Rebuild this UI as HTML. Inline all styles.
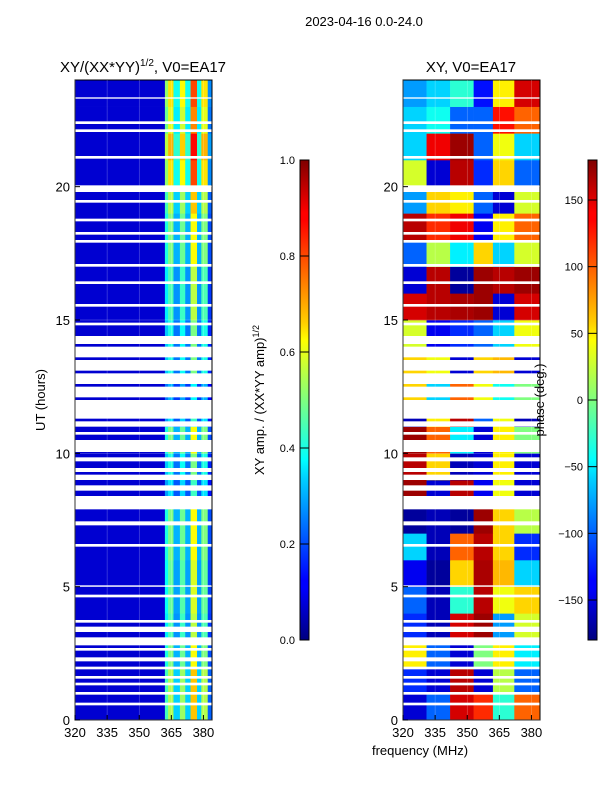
<!DOCTYPE html>
<html><head><meta charset="utf-8"><style>
body{margin:0;background:#fff;}
svg{display:block;font-family:"Liberation Sans",sans-serif;}
</style></head><body>
<svg id="fig" width="600" height="800" viewBox="0 0 600 800" xmlns="http://www.w3.org/2000/svg">
<defs>
<linearGradient id="jet" x1="0" y1="1" x2="0" y2="0">
<stop offset="0" stop-color="#00007f"/><stop offset="0.11" stop-color="#0000ff"/><stop offset="0.125" stop-color="#0000ff"/>
<stop offset="0.34" stop-color="#00d4ff"/><stop offset="0.375" stop-color="#00ffff"/><stop offset="0.5" stop-color="#7fff7f"/>
<stop offset="0.625" stop-color="#ffff00"/><stop offset="0.66" stop-color="#ffd000"/><stop offset="0.875" stop-color="#ff0000"/><stop offset="0.89" stop-color="#ff0000"/><stop offset="1" stop-color="#7f0000"/>
</linearGradient>
</defs>
<text x="364" y="26" font-size="13" text-anchor="middle">2023-04-16 0.0-24.0</text>
<text x="143" y="72" font-size="15" text-anchor="middle">XY/(XX*YY)<tspan font-size="10" dy="-6">1/2</tspan><tspan dy="6">, V0=EA17</tspan></text>
<text x="471" y="72" font-size="15" text-anchor="middle">XY, V0=EA17</text>
<g id="left"></g>
<g id="right"></g>
<g id="axes"></g>
<text transform="translate(45,400) rotate(-90)" font-size="13" text-anchor="middle">UT (hours)</text>
<text x="420" y="755" font-size="13" text-anchor="middle">frequency (MHz)</text>
<rect x="300" y="160" width="9" height="480" fill="url(#jet)" stroke="#000" stroke-width="1"/>
<rect x="588" y="160" width="9" height="480" fill="url(#jet)" stroke="#000" stroke-width="1"/>
<text transform="translate(264,400) rotate(-90)" font-size="13" text-anchor="middle">XY amp. / (XX*YY amp)<tspan font-size="9" dy="-5">1/2</tspan></text>
<text transform="translate(544,400) rotate(-90)" font-size="13" text-anchor="middle">phase (deg.)</text>
<g id="cb"></g>
</svg>
<script>
const hours = [0,1,2,3,4,5,6,7,8,9,10,11,12,13,14,15,16,17,18,19,20,21,22,23];
const phaseBands = [320,331,342,353,362,372,384];
const phaseValues = [
[-150,-100,150,120,-30,100],[-120,-150,160,-150,20,-100],[50,-100,-150,0,50,-50],[-120,-160,150,170,-80,30],
[-100,-160,-30,160,40,60],[-140,-170,60,165,70,-60],[-60,-160,100,160,60,-120],[-170,-160,-170,170,60,20],
[170,-150,160,-140,40,-150],[160,60,-160,-150,50,-150],[170,100,-50,-150,50,0],[-160,50,160,-100,40,-160],
[60,-60,100,40,-40,0],[60,40,-150,60,70,-150],[30,-140,-120,-100,-60,40],[150,160,165,170,-150,150],
[-150,160,-170,170,160,170],[-100,20,-50,60,-60,30],[160,120,140,-140,50,100],[-80,60,50,-100,-150,30],
[30,-150,160,-120,60,-100],[-60,140,170,-100,40,-60],[-60,-40,-100,-100,130,100],[-80,-60,-30,-130,50,150]];
const ampBands = [320,362,363.5,366,369,371.5,374,377,379,382,384];
const ampValues = [0.08,0.4,0.5,0.3,0.48,0.3,0.62,0.3,0.5,0.2];
const hourGain = [1.1,1.1,1.0,0.9,0.95,0.95,1.0,1.0,0.7,0.8,1.0,0.7,0.6,0.8,0.8,0.9,0.9,1.0,1.0,1.1,1.3,1.4,1.2,1.3];
const flagged = [[0.55,0.65],[0.95,1.05],[1.3,1.4],[1.55,1.65],[1.9,2.0],[2.2,2.35],[2.6,2.7],[2.8,3.1],[3.3,3.5],[3.65,3.75],[4.6,4.7],[5.0,5.05],[6.5,6.6],[7.3,7.45],[7.9,8.4],[8.6,8.8],[9.0,9.2],[9.3,9.45],[9.7,9.85],[10.05,10.5],[10.7,10.8],[11.0,11.2],[11.3,12.0],[12.1,12.5],[12.6,13.0],[13.1,13.5],[13.6,14.0],[14.1,14.4],[14.8,14.9],[15.5,15.6],[16.35,16.45],[17.0,17.1],[17.9,18.0],[18.2,18.3],[18.7,18.8],[19.4,19.5],[19.8,20.05],[21.05,21.15],[22.05,22.15],[22.35,22.45],[23.3,23.35]];
const xTicks = [320,335,350,365,380];
const yTicks = [0,5,10,15,20];
const ampTicks = [0.0,0.2,0.4,0.6,0.8,1.0];
const phaseTicks = [-150,-100,-50,0,50,100,150];

const NS='http://www.w3.org/2000/svg';
const Y0=720,Y1=80;
function yScale(h){return Y0-(h/24)*(Y0-Y1);}
function xScale(f,x0){return x0+(f-320)/(384-320)*137;}
function jet(v){v=Math.max(0,Math.min(1,v));
 const r=Math.max(0,Math.min(1,1.5-Math.abs(4*v-3))),g=Math.max(0,Math.min(1,1.5-Math.abs(4*v-2))),b=Math.max(0,Math.min(1,1.5-Math.abs(4*v-1)));
 return `rgb(${Math.round(r*255)},${Math.round(g*255)},${Math.round(b*255)})`;}
function mk(tag,attrs,parent){const e=document.createElementNS(NS,tag);for(const k in attrs)e.setAttribute(k,attrs[k]);parent.appendChild(e);return e;}
const L=document.getElementById('left'),R=document.getElementById('right'),A=document.getElementById('axes'),CB=document.getElementById('cb');
mk('rect',{x:75,y:80,width:137,height:640,fill:'#fff'},L);
mk('rect',{x:403,y:80,width:137,height:640,fill:'#fff'},R);
hours.forEach((h,i)=>{
 for(let j=0;j<ampValues.length;j++){
  const r=mk('rect',{x:xScale(ampBands[j],75),y:yScale(h+1),width:xScale(ampBands[j+1],75)-xScale(ampBands[j],75)+0.3,height:yScale(h)-yScale(h+1)+0.3,fill:jet(ampValues[j]*(j===0?1:hourGain[i]))},L);
  
  
 }
 for(let j=0;j<6;j++){
  const r=mk('rect',{x:xScale(phaseBands[j],403),y:yScale(h+1),width:xScale(phaseBands[j+1],403)-xScale(phaseBands[j],403)+0.3,height:yScale(h)-yScale(h+1)+0.3,fill:jet((phaseValues[i][j]+180)/360)},R);
  
  
 }
});
flagged.forEach(f=>{[75,403].forEach(x0=>{
 const r=mk('rect',{x:x0,y:yScale(f[1]),width:137,height:yScale(f[0])-yScale(f[1]),fill:'#fff'},x0===75?L:R);
 
 
});});
[75,403].forEach(x0=>{
 mk('rect',{x:x0,y:80,width:137,height:640,fill:'none',stroke:'#000','stroke-width':1},A);
 xTicks.forEach(t=>{const x=xScale(t,x0);
  mk('line',{x1:x,x2:x,y1:720,y2:80,stroke:'#fff','stroke-width':0.5,'stroke-opacity':0.4},A);
  mk('line',{x1:x,x2:x,y1:720,y2:715,stroke:'#000'},A);
  const tx=mk('text',{x:x,y:737,'font-size':13,'text-anchor':'middle'},A);tx.textContent=t;
  
  
 });
 yTicks.forEach(t=>{const y=yScale(t);
  mk('line',{x1:x0,x2:x0+137,y1:y,y2:y,stroke:'#fff','stroke-width':0.5,'stroke-opacity':0.4},A);
  mk('line',{x1:x0,x2:x0+5,y1:y,y2:y,stroke:'#000'},A);
  const tx=mk('text',{x:x0-5,y:y+5,'font-size':13,'text-anchor':'end'},A);tx.textContent=t;
  
  
 });
});
ampTicks.forEach(t=>{const y=640-t*480;
 mk('line',{x1:300,x2:309,y1:y,y2:y,stroke:'#000'},CB);
 const tx=mk('text',{x:295,y:y+4,'font-size':11,'text-anchor':'end'},CB);tx.textContent=t.toFixed(1);
 
 
});
phaseTicks.forEach(t=>{const y=640-(t+180)/360*480;
 mk('line',{x1:588,x2:597,y1:y,y2:y,stroke:'#000'},CB);
 const tx=mk('text',{x:583,y:y+4,'font-size':11,'text-anchor':'end'},CB);tx.textContent=(t<0?'\u2212'+(-t):t);
 
 
});
</script>
</body></html>
